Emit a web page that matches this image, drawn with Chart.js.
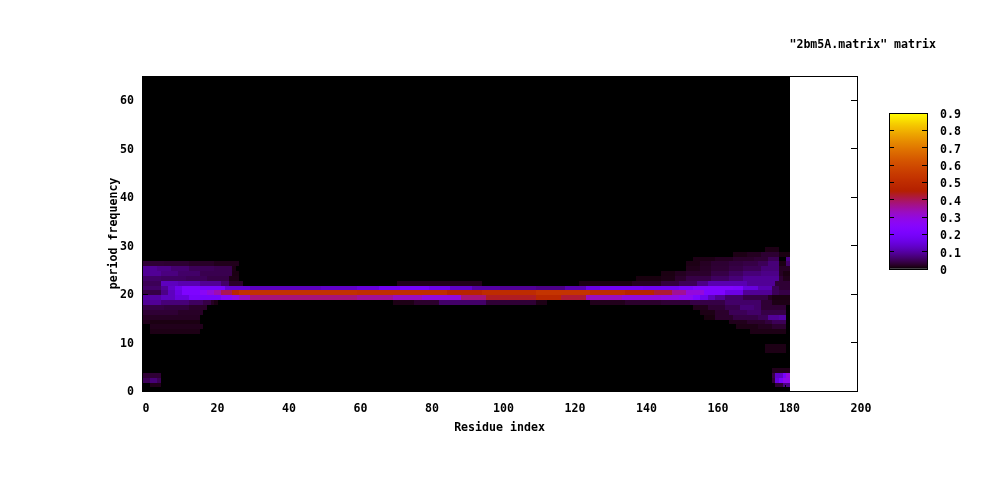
<!DOCTYPE html>
<html>
<head>
<meta charset="utf-8">
<title>2bm5A.matrix</title>
<script src="https://cdn.jsdelivr.net/npm/chart.js@4/dist/chart.umd.js"></script>
<style>
  body { margin: 0; background: #fff; }
  #matriz { position: absolute; left: 0; top: 0; }
  #barra { position: absolute; top: 100px; left: 880px; }
</style>
</head>
<body>
<canvas id="matriz" width="1000" height="480"></canvas>
<canvas id="barra" width="110" height="180"></canvas>
<script>
// Ticks e textos
const xTicks = [0, 20, 40, 60, 80, 100, 120, 140, 160, 180, 200];
const yTicks = [0, 10, 20, 30, 40, 50, 60];
const cbTicks = [0, 0.1, 0.2, 0.3, 0.4, 0.5, 0.6, 0.7, 0.8, 0.9];
const tituloMatriz = '"2bm5A.matrix" matrix';
const tituloX = 'Residue index';
const tituloY = 'period frequency';

// Tamanho da matriz (residuos, periodos)
const nResiduos = 181;
const nPeriodos = 65;

// Cada linha da matriz: pares [residuo inicial, valor]. Vale ate o proximo par.
const row1 = [[2,.015],[5,0],[177,.03],[179,.08]];
const row2 = [[0,.05],[2,.07],[4,.05],[5,0],[176,.03],[177,.15],[178,.2],[179,.28]];
const row3 = [[0,.03],[5,0],[176,.04],[177,.13],[179,.2],[180,.3]];
const row4 = [[176,.015]];
const row8 = [[174,.012],[180,0]];
const row9 = [[174,.012],[180,0]];
const row12 = [[2,.012],[16,0],[170,.012],[180,0]];
const row13 = [[2,.015],[17,0],[166,.012],[172,.018],[176,.028],[180,0]];
const row14 = [[0,.015],[2,.01],[16,0],[164,.015],[169,.025],[174,.035],[176,.05],[180,0]];
const row15 = [[0,.02],[16,0],[157,.008],[160,.025],[165,.04],[172,.05],[175,.09],[178,.1],[180,0]];
const row16 = [[0,.03],[10,.022],[17,0],[156,.012],[160,.025],[164,.05],[169,.06],[173,.04],[180,0]];
const row17 = [[0,.04],[6,.035],[13,.025],[18,0],[154,.015],[158,.03],[163,.045],[167,.07],[171,.06],[173,.03],[180,0]];
const row18 = [[0,.09],[5,.07],[13,.055],[17,.04],[19,.02],[20,.01],[21,0],[70,.012],[76,.025],[83,.06],[96,.03],[110,.012],[113,0],[125,.015],[135,.025],[145,.03],[153,.04],[163,.06],[173,.03],[176,.012]];
const row19 = [[0,.1],[5,.12],[9,.15],[13,.2],[22,.25],[25,.29],[27,.33],[30,.38],[60,.36],[70,.33],[78,.3],[89,.38],[96,.43],[110,.48],[117,.42],[124,.33],[134,.3],[145,.29],[150,.27],[154,.22],[156,.17],[158,.12],[160,.09],[163,.06],[168,.04],[175,.02],[176,.01]];
const row20 = [[0,.04],[5,.08],[7,.12],[9,.16],[11,.22],[16,.26],[18,.3],[20,.34],[22,.4],[25,.48],[27,.52],[60,.51],[85,.47],[95,.5],[110,.53],[125,.5],[135,.47],[143,.42],[148,.36],[152,.3],[157,.22],[163,.16],[168,.09],[176,.05],[178,.04]];
const row21 = [[0,.06],[5,.09],[7,.13],[9,.17],[11,.22],[16,.2],[23,.14],[30,.12],[50,.13],[60,.15],[66,.18],[72,.2],[80,.17],[86,.13],[92,.1],[100,.09],[110,.08],[118,.11],[124,.16],[128,.19],[140,.18],[150,.2],[154,.23],[165,.22],[168,.15],[172,.11],[176,.05],[178,.03]];
const row22 = [[0,.05],[5,.12],[10,.11],[16,.09],[22,.06],[24,.025],[28,0],[71,.015],[95,0],[122,.01],[137,.02],[145,.035],[150,.05],[155,.08],[158,.11],[169,.09],[177,.03]];
const row23 = [[0,.06],[5,.055],[12,.05],[18,.04],[24,.012],[27,0],[138,.008],[145,.012],[149,.025],[152,.04],[159,.055],[164,.07],[168,.09],[178,.03],[179,.015]];
const row24 = [[0,.09],[5,.075],[10,.06],[16,.045],[25,.01],[27,0],[145,.01],[149,.018],[152,.025],[159,.04],[164,.055],[168,.07],[173,.08],[178,.02],[179,.01]];
const row25 = [[0,.09],[4,.08],[8,.065],[13,.05],[20,.045],[25,.012],[26,0],[152,.015],[156,.022],[159,.03],[164,.04],[168,.05],[173,.07],[178,.02]];
const row26 = [[0,.03],[6,.028],[13,.022],[20,.015],[27,0],[152,.012],[156,.02],[159,.028],[164,.035],[168,.04],[172,.05],[175,.07],[178,.01],[180,.06]];
const row27 = [[154,.012],[160,.018],[165,.025],[171,.03],[175,.05],[178,0],[180,.08]];
const row28 = [[165,.012],[169,.018],[173,.028],[178,.01]];
const row29 = [[174,.012],[178,0]];

const periodos = [1, 2, 3, 4, 8, 9, 12, 13, 14, 15, 16, 17, 18, 19, 20, 21, 22, 23, 24, 25, 26, 27, 28, 29];
const linhas = [row1, row2, row3, row4, row8, row9, row12, row13, row14, row15, row16, row17, row18, row19, row20, row21, row22, row23, row24, row25, row26, row27, row28, row29];

Chart.defaults.font.family = '"DejaVu Sans Mono"';
Chart.defaults.font.size = 11.6;
Chart.defaults.font.weight = 'bold';
Chart.defaults.color = '#000';

// Paleta do gnuplot (7,5,15) com cb de 0 a 0.9
function cor(v) {
    const t = Math.min(v / 0.9, 1);
    const r = Math.sqrt(t);
    const g = t * t * t;
    const b = Math.max(Math.sin(2 * Math.PI * t), 0);
    return `rgb(${Math.round(r * 255)},${Math.round(g * 255)},${Math.round(b * 255)})`;
}

// Celulas: um ponto por residuo
const celulas = [];
periodos.forEach(function (p, i) {
    const pares = linhas[i];
    pares.forEach(function (par, j) {
        const fim = j + 1 < pares.length ? pares[j + 1][0] : nResiduos;
        if (par[1] > 0) {
            for (let r = par[0]; r < fim; r++) {
                celulas.push({ x: r, y: p, v: par[1] });
            }
        }
    });
});

// Desenha o fundo preto e as celulas usando as escalas do grafico
const pluginCelulas = {
    id: 'celulas',
    beforeDatasetsDraw(chart) {
        const { ctx, scales } = chart;
        const sx = scales.x, sy = scales.y;
        const px = v => Math.round(sx.getPixelForValue(v + 0.2));
        const py = v => Math.round(sy.getPixelForValue(v));
        ctx.save();
        ctx.fillStyle = '#000';
        ctx.fillRect(px(-0.2), py(nPeriodos), px(nResiduos) - px(-0.2), py(0) - py(nPeriodos));
        chart.data.datasets[0].data.forEach(function (c) {
            ctx.fillStyle = cor(c.v);
            const topo = py(c.y + 0.75);
            ctx.fillRect(px(c.x), topo, px(c.x + 1) - px(c.x), py(c.y - 0.25) - topo);
        });
        ctx.restore();
    }
};

function eixo(min, max, ticks, tamanho, extra) {
    return Object.assign({
        min: min,
        max: max,
        afterBuildTicks: function (s) { s.ticks = ticks.map(v => ({ value: v })); },
        afterFit: function (s) {
            if (s.isHorizontal()) { s.height = tamanho; } else { s.width = tamanho; }
            s.paddingTop = 0;
            s.paddingBottom = 0;
            s.paddingLeft = 0;
            s.paddingRight = 0;
        },
        border: { color: '#000', width: 1, z: 1 },
        grid: { drawOnChartArea: false, color: '#000', tickLength: -6, z: 1 },
        ticks: { display: false }
    }, extra);
}

new Chart(document.getElementById('matriz'), {
    type: 'scatter',
    data: {
        datasets: [{
            data: celulas,
            pointRadius: 0,
            pointHoverRadius: 0
        }]
    },
    options: {
        responsive: false,
        animation: false,
        events: [],
        layout: { padding: { left: 0, right: 64, top: 0, bottom: 0 } },
        plugins: {
            legend: { display: false },
            tooltip: { enabled: false },
            title: {
                display: true,
                text: tituloMatriz,
                align: 'end',
                padding: { top: 38, bottom: 24 },
                font: { size: 11.6, weight: 'bold', lineHeight: 14 / 11.6 }
            }
        },
        scales: {
            x: eixo(0, 200, xTicks, 89, {
                position: 'bottom',
                ticks: { display: true, padding: 17, maxRotation: 0, labelOffset: 4, autoSkip: false },
                title: { display: true, text: tituloX, padding: { top: 0, bottom: 45 } }
            }),
            x2: eixo(0, 200, xTicks, 0, { position: 'top' }),
            y: eixo(0, nPeriodos, yTicks, 142, {
                position: 'left',
                ticks: { display: true, padding: 14, labelOffset: 1, autoSkip: false },
                title: { display: true, text: tituloY, padding: { top: 107, bottom: 0 } }
            }),
            y2: eixo(0, nPeriodos, yTicks, 79, { position: 'right' })
        }
    },
    plugins: [pluginCelulas]
});

// Barra de cores
new Chart(document.getElementById('barra'), {
    type: 'bar',
    data: {
        labels: ['cb'],
        datasets: [{
            data: [[cbTicks[0], cbTicks[cbTicks.length - 1]]],
            barPercentage: 1,
            categoryPercentage: 1,
            backgroundColor: function (context) {
                const { ctx, chartArea } = context.chart;
                if (!chartArea) { return '#000'; }
                const g = ctx.createLinearGradient(0, chartArea.bottom, 0, chartArea.top);
                for (let i = 0; i <= 60; i++) { g.addColorStop(i / 60, cor(i / 60 * 0.9)); }
                return g;
            }
        }]
    },
    options: {
        responsive: false,
        animation: false,
        events: [],
        layout: { padding: { left: 9, right: 0, top: 13, bottom: 11 } },
        plugins: { legend: { display: false }, tooltip: { enabled: false } },
        scales: {
            x: {
                position: 'bottom',
                afterFit: function (s) { s.height = 0; },
                border: { color: '#000', width: 1, z: 1 },
                grid: { display: false },
                ticks: { display: false }
            },
            x2: {
                position: 'top',
                type: 'category',
                labels: ['cb'],
                afterFit: function (s) { s.height = 0; },
                border: { color: '#000', width: 1, z: 1 },
                grid: { display: false },
                ticks: { display: false }
            },
            y: eixo(0, 0.9, cbTicks, 63, {
                position: 'right',
                grid: { drawOnChartArea: false, color: '#000', tickLength: -5, z: 1 },
                ticks: { display: true, padding: 18, labelOffset: 2, autoSkip: false, callback: v => String(v) }
            }),
            y2: eixo(0, 0.9, cbTicks, 0, {
                position: 'left',
                grid: { drawOnChartArea: false, color: '#000', tickLength: -5, z: 1 }
            })
        }
    }
});
</script>
</body>
</html>
